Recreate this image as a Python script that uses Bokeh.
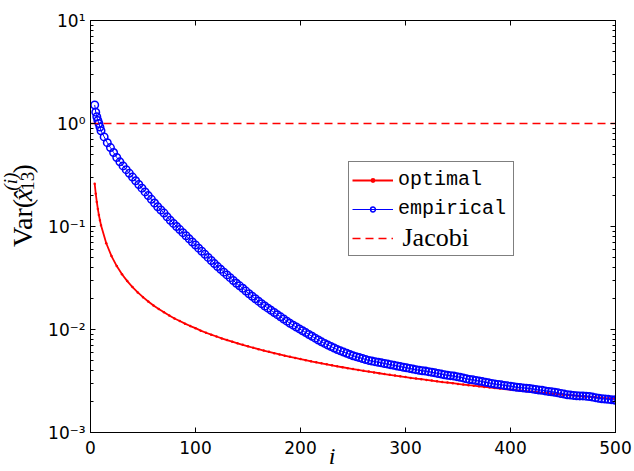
from bokeh.plotting import figure
from bokeh.layouts import row
from bokeh.models import (Range1d, FixedTicker, CustomJSTickFormatter, LinearAxis,
                          LogAxis, Legend, LegendItem, Label)
from bokeh.embed import file_html
from bokeh.resources import INLINE
import math

# ---------------- data ----------------
# "optimal" curve, read every 5 iterations
opt_i = [4, 5, 6, 7, 8, 9, 10,
         15, 20, 25, 30, 35, 40, 45, 50, 55, 60, 65, 70, 75, 80, 85, 90, 95, 100,
         105, 110, 115, 120, 125, 130, 135, 140, 145, 150, 155, 160, 165, 170, 175, 180,
         185, 190, 195, 200, 205, 210, 215, 220, 225, 230, 235, 240, 245, 250, 255, 260,
         265, 270, 275, 280, 285, 290, 295, 300, 305, 310, 315, 320, 325, 330, 335, 340,
         345, 350, 355, 360, 365, 370, 375, 380, 385, 390, 395, 400, 405, 410, 415, 420,
         425, 430, 435, 440, 445, 450, 455, 460, 465, 470, 475, 480, 485, 490, 495, 500]

optimal = [0.260, 0.208, 0.173, 0.148, 0.129, 0.115, 0.103,
           0.0688, 0.0516, 0.0413, 0.0344, 0.0295, 0.0258, 0.0229, 0.0206, 0.0187, 0.0171,
           0.0158, 0.0147, 0.0137, 0.0128, 0.0121, 0.0114, 0.0108, 0.0103,
           0.00975, 0.00930, 0.00890, 0.00855, 0.00820, 0.00790, 0.00762, 0.00735, 0.00710,
           0.00687, 0.00665, 0.00644, 0.00625, 0.00607, 0.00589, 0.00573, 0.00557, 0.00543,
           0.00529, 0.00516, 0.00503, 0.00491, 0.00480, 0.00469, 0.00459, 0.00449, 0.00439,
           0.00430, 0.00421, 0.00413, 0.00405, 0.00397, 0.00390, 0.00383, 0.00376, 0.00369,
           0.00363, 0.00357, 0.00351, 0.00345, 0.00339, 0.00334, 0.00329, 0.00324, 0.00319,
           0.00314, 0.00309, 0.00305, 0.00301, 0.00296, 0.00292, 0.00288, 0.00285, 0.00281,
           0.00277, 0.00274, 0.00270, 0.00267, 0.00264, 0.00261, 0.00258, 0.00255, 0.00252,
           0.00249, 0.00246, 0.00244, 0.00241, 0.00238, 0.00236, 0.00233, 0.00231, 0.00229,
           0.00226, 0.00224, 0.00222, 0.00220, 0.00218, 0.00216, 0.00214, 0.00212]

# "empirical" curve, read every 3 iterations, as decimal exponents (log10 of Var)
emp_i = [4, 5, 6, 7, 8, 9, 10,
         13, 16, 19, 22, 25, 28, 31, 34, 37, 40, 43, 46, 49, 52, 55, 58, 61, 64, 67, 70,
         73, 76, 79, 82, 85, 88, 91, 94, 97, 100, 103, 106, 109, 112, 115, 118, 121, 124,
         127, 130, 133, 136, 139, 142, 145, 148, 151, 154, 157, 160, 163, 166, 169, 172,
         175, 178, 181, 184, 187, 190, 193, 196, 199, 202, 205, 208, 211, 214, 217, 220,
         223, 226, 229, 232, 235, 238, 241, 244, 247, 250, 253, 256, 259, 262, 265, 268,
         271, 274, 277, 280, 283, 286, 289, 292, 295, 298, 301, 304, 307, 310, 313, 316,
         319, 322, 325, 328, 331, 334, 337, 340, 343, 346, 349, 352, 355, 358, 361, 364,
         367, 370, 373, 376, 379, 382, 385, 388, 391, 394, 397, 400, 403, 406, 409, 412,
         415, 418, 421, 424, 427, 430, 433, 436, 439, 442, 445, 448, 451, 454, 457, 460,
         463, 466, 469, 472, 475, 478, 481, 484, 487, 490, 493, 496, 499, 500]

empirical_exp = [0.18, 0.11, 0.065, 0.03, 0.0, -0.035, -0.07,
                 -0.13, -0.186, -0.234, -0.282, -0.33, -0.372, -0.412, -0.448, -0.484, -0.52,
                 -0.556, -0.592, -0.628, -0.664, -0.70, -0.736, -0.772, -0.808, -0.84, -0.87,
                 -0.906, -0.94, -0.97, -1.00, -1.03, -1.06, -1.09, -1.12, -1.15, -1.18,
                 -1.21, -1.24, -1.27, -1.30, -1.33, -1.36, -1.389, -1.416,
                 -1.443, -1.47, -1.497, -1.524, -1.551, -1.576, -1.60, -1.627, -1.653, -1.677,
                 -1.701, -1.725, -1.749, -1.772, -1.793, -1.814,
                 -1.835, -1.856, -1.877, -1.898, -1.919, -1.94, -1.958, -1.976, -1.994, -2.012,
                 -2.03, -2.048, -2.066, -2.084, -2.102, -2.12,
                 -2.135, -2.15, -2.165, -2.18, -2.195, -2.207, -2.219, -2.231, -2.243, -2.255,
                 -2.264, -2.273, -2.282, -2.291, -2.30, -2.306,
                 -2.312, -2.318, -2.324, -2.33, -2.336, -2.342, -2.348, -2.354, -2.36, -2.366,
                 -2.372, -2.378, -2.384, -2.39, -2.396, -2.401,
                 -2.404, -2.409, -2.415, -2.421, -2.427, -2.433, -2.439, -2.445, -2.448, -2.452,
                 -2.458, -2.464, -2.47, -2.479, -2.486, -2.489,
                 -2.494, -2.50, -2.506, -2.512, -2.518, -2.524, -2.53, -2.533, -2.537, -2.543,
                 -2.547, -2.55, -2.556, -2.561, -2.564, -2.567,
                 -2.57, -2.573, -2.577, -2.583, -2.587, -2.59, -2.596, -2.601, -2.604, -2.609,
                 -2.615, -2.621, -2.627, -2.633, -2.637, -2.64,
                 -2.643, -2.645, -2.645, -2.647, -2.65, -2.656, -2.662, -2.668, -2.672, -2.675,
                 -2.678, -2.681, -2.684, -2.685]
empirical = [10.0 ** e for e in empirical_exp]

jacobi_i = [0, 500]
jacobi_var = [1.0, 1.0]

x_ticks = [0, 100, 200, 300, 400, 500]
y_ticks = [1e-3, 1e-2, 1e-1, 1.0, 10.0]
y_minor = [k * 10.0 ** e for e in range(-3, 1) for k in range(2, 10)]

W, H = 632, 471
STRIP = 44

# ---------------- main figure ----------------
p = figure(width=W - STRIP, height=H, title=None,
           x_range=Range1d(0, 500), y_range=Range1d(1e-3, 10), y_axis_type="log",
           output_backend="svg", toolbar_location=None,
           min_border_left=90 - STRIP, min_border_right=17, min_border_top=20,
           min_border_bottom=H - 433)
p.xgrid.visible = False
p.ygrid.visible = False
p.outline_line_color = "black"
p.outline_line_width = 1
p.background_fill_color = "white"
p.border_fill_color = "white"

sup_js = """
const e = Math.round(Math.log10(tick));
const m = {"-": "\\u207b", "0": "\\u2070", "1": "\\u00b9", "2": "\\u00b2", "3": "\\u00b3"};
return "10" + String(e).split("").map(c => m[c]).join("");
"""

def style_axis(ax):
    ax.axis_line_color = "black"
    ax.axis_line_width = 1
    ax.major_tick_line_color = "black"
    ax.minor_tick_line_color = "black"
    ax.major_tick_in = 5
    ax.major_tick_out = 0
    ax.minor_tick_in = 3
    ax.minor_tick_out = 0
    ax.major_label_text_color = "black"
    ax.major_label_text_font = "DejaVu Sans"
    ax.major_label_text_font_size = "17px"

xa = p.xaxis[0]
xa.ticker = FixedTicker(ticks=x_ticks)
style_axis(xa)
xa.minor_tick_line_color = None
xa.major_label_standoff = 8
xa.axis_label = "i" + "\u00a0" * 7
xa.axis_label_text_font = "Liberation Serif"
xa.axis_label_text_font_style = "italic"
xa.axis_label_text_font_size = "24px"
xa.axis_label_text_line_height = 0.8
xa.axis_label_text_color = "black"
xa.axis_label_standoff = -14

ya = p.yaxis[0]
ya.ticker = FixedTicker(ticks=y_ticks, minor_ticks=y_minor)
ya.formatter = CustomJSTickFormatter(code=sup_js)
style_axis(ya)
ya.major_label_standoff = 5

blank = "return '';"
top = LinearAxis(ticker=FixedTicker(ticks=x_ticks), formatter=CustomJSTickFormatter(code=blank))
style_axis(top)
top.minor_tick_line_color = None
top.major_label_standoff = 0
top.major_label_text_font_size = "8px"
p.add_layout(top, "above")

right = LogAxis(ticker=FixedTicker(ticks=y_ticks, minor_ticks=y_minor),
                formatter=CustomJSTickFormatter(code=blank))
style_axis(right)
right.major_label_standoff = 0
right.major_label_text_font_size = "8px"
p.add_layout(right, "right")

# ---------------- glyphs ----------------
r_line = p.line(opt_i, optimal, line_color="red", line_width=1.8)
r_dots = p.scatter(opt_i, optimal, marker="circle", size=2.5, fill_color="red", line_color=None)
b_line = p.line(emp_i, empirical, line_color="blue", line_width=1)
b_circ = p.scatter(emp_i, empirical, marker="circle", size=7.5, fill_color=None,
                   line_color="blue", line_width=1.5)
j_line = p.line(jacobi_i, jacobi_var, line_color="red", line_dash="8 5", line_width=1.3)

legend = Legend(items=[LegendItem(label="optimal", renderers=[r_line, r_dots]),
                       LegendItem(label="empirical", renderers=[b_line, b_circ]),
                       LegendItem(label=" ", renderers=[j_line])],
                location=(258, 176),
                label_text_font="Liberation Mono", label_text_font_size="20px",
                label_text_color="black",
                label_height=29, label_width=112, glyph_height=12, glyph_width=41,
                label_standoff=5, padding=3, spacing=0, margin=0,
                border_line_color="black", border_line_width=1,
                background_fill_color=None, background_fill_alpha=0)
p.add_layout(legend)

p.add_layout(Label(x=0, y=1e-3, x_offset=312, y_offset=195, text="Jacobi", level="overlay",
                   text_font="Liberation Serif", text_font_size="26px",
                   text_color="black", text_align="left", text_baseline="middle"))

# ---------------- y-axis label strip ----------------
s = figure(width=STRIP, height=H, title=None, x_range=Range1d(0, STRIP), y_range=Range1d(0, H),
           x_axis_location=None, y_axis_location=None, output_backend="svg",
           toolbar_location=None, min_border=0)
s.grid.visible = False
s.outline_line_color = None
s.background_fill_color = "white"
s.border_fill_color = "white"

ang = math.pi / 2
def ylab(text, cx, cy, size, style="normal", lh=1.2):
    s.add_layout(Label(x=cx, y=H - cy, text=text, angle=ang,
                       text_font="Liberation Serif", text_font_style=style,
                       text_font_size=size, text_color="black", text_line_height=lh,
                       text_align="center", text_baseline="middle"))

ylab("Var(", 22.0, 231.4, "28px")
ylab("x\u0302", 22.0, 199.5, "28px", "italic")
ylab("(i)", 9.6, 184.3, "19px", "italic", 1.0)
ylab("13", 26.6, 183.8, "19px")
ylab(")", 22.0, 169.6, "28px")

open("out.html", "w").write(file_html(row(s, p), INLINE))
